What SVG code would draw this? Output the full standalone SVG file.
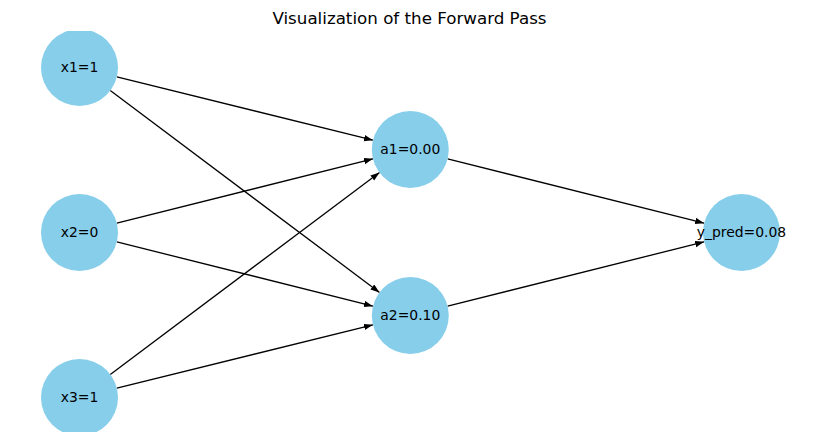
<svg xmlns="http://www.w3.org/2000/svg" width="819" height="442" viewBox="0 0 819 442">
<style>
.node circle{fill:#87ceeb;}
.node text{font-family:"DejaVu Sans",sans-serif;font-size:13.9px;text-anchor:middle;fill:#000;}
.edges line{stroke:#000;stroke-width:1.3;marker-end:url(#arr);}
.title{font-family:"DejaVu Sans",sans-serif;font-size:16.7px;text-anchor:middle;fill:#000;}
</style>
<defs>
<marker id="arr" markerUnits="userSpaceOnUse" markerWidth="10" markerHeight="8" refX="9" refY="3.2" orient="auto">
<path d="M0,0 L9,3.2 L0,6.4 z" fill="#000"/>
</marker>
<clipPath id="ax"><rect x="0" y="31" width="819" height="401"/></clipPath>
</defs>
<rect width="819" height="442" fill="#fff"/>
<text class="title" x="409.5" y="24">Visualization of the Forward Pass</text>
<g clip-path="url(#ax)">
<g class="edges" id="edges">
<line x1="116.87" y1="76.76" x2="372.93" y2="140.24"/>
<line x1="110.30" y1="90.59" x2="379.50" y2="292.41"/>
<line x1="116.84" y1="223.13" x2="372.96" y2="158.87"/>
<line x1="116.84" y1="241.87" x2="372.96" y2="306.13"/>
<line x1="110.30" y1="374.41" x2="379.50" y2="172.59"/>
<line x1="116.87" y1="388.24" x2="372.93" y2="324.76"/>
<line x1="447.65" y1="158.86" x2="704.15" y2="223.14"/>
<line x1="447.65" y1="306.14" x2="704.15" y2="241.86"/>
</g>
<g class="node" id="x1"><circle cx="79.5" cy="67.5" r="38.5"/><text x="79.5" y="72">x1=1</text></g>
<g class="node" id="x2"><circle cx="79.5" cy="232.5" r="38.5"/><text x="79.5" y="237">x2=0</text></g>
<g class="node" id="x3"><circle cx="79.5" cy="397.5" r="38.5"/><text x="79.5" y="402">x3=1</text></g>
<g class="node" id="a1"><circle cx="410.3" cy="149.5" r="38.5"/><text x="410.3" y="154">a1=0.00</text></g>
<g class="node" id="a2"><circle cx="410.3" cy="315.5" r="38.5"/><text x="410.3" y="320">a2=0.10</text></g>
<g class="node" id="y_pred"><circle cx="741.5" cy="232.5" r="38.5"/><text x="741.5" y="237">y_pred=0.08</text></g>
</g>
</svg>
